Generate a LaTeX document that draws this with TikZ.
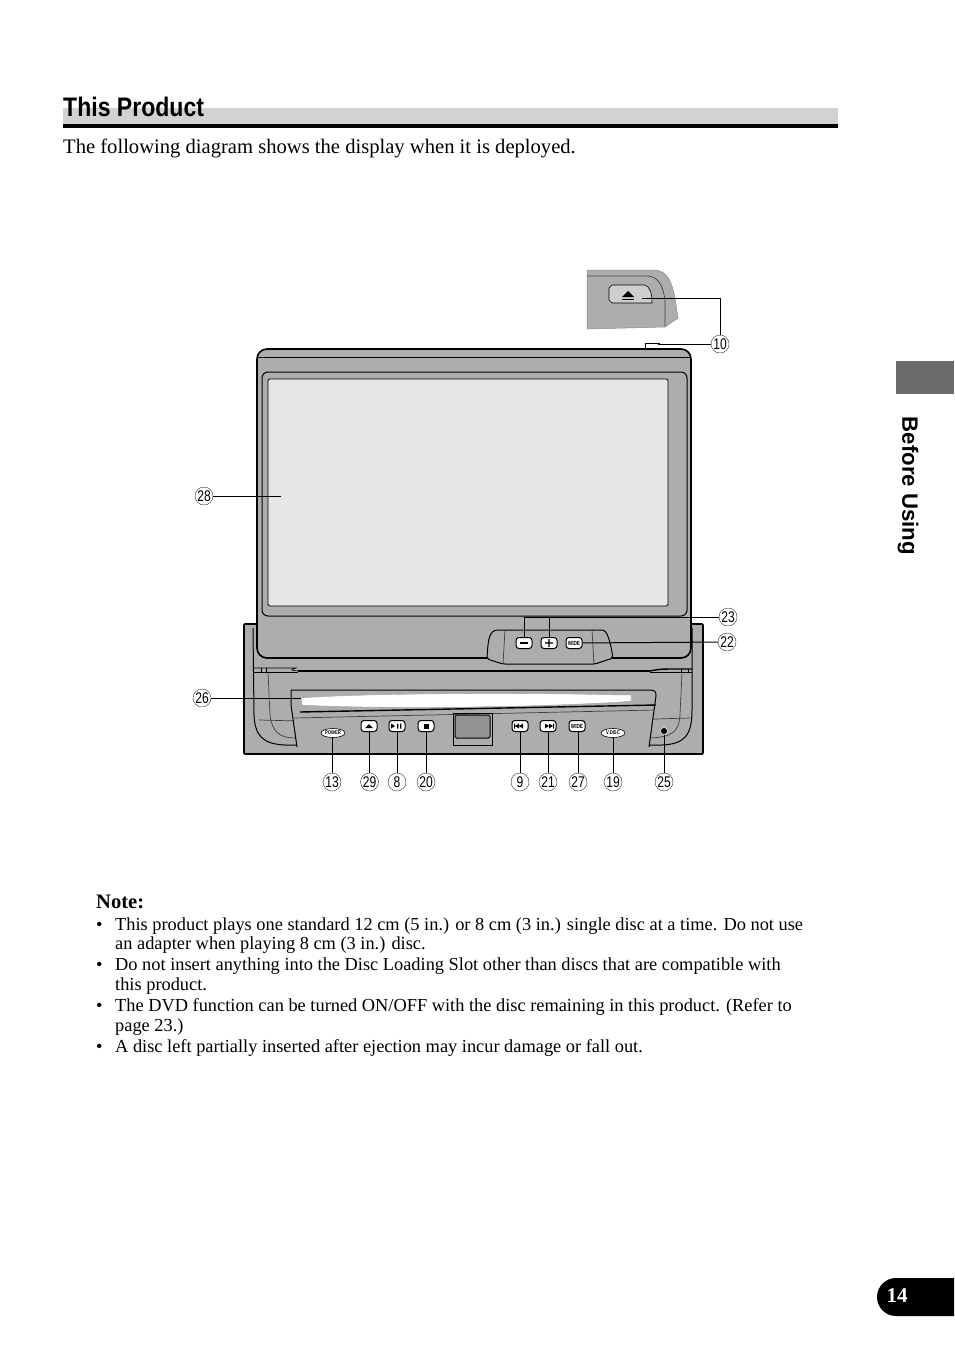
\documentclass[tikz,border=0pt]{standalone}
\usepackage{fontspec}
\setmainfont{Liberation Serif}
\newfontfamily\headf[FakeStretch=0.86]{Liberation Sans}
\newfontfamily\numf[FakeStretch=0.78]{Liberation Sans}
\newfontfamily\sidef{Liberation Sans}
\usetikzlibrary{calc,shapes.geometric}
\definecolor{bodyg}{HTML}{ADADAD}
\definecolor{darkg}{HTML}{6A6A6A}
\definecolor{scr}{HTML}{E6E6E6}
\definecolor{band}{HTML}{D2D2D2}
\tikzset{
  body/.style={font=\fontsize{18.36}{20}\selectfont,anchor=base west,inner sep=0pt},
  num/.style={circle,draw=black,line width=0.3pt,inner sep=0pt,minimum size=18pt,font=\numf\fontsize{15.5}{16}\selectfont},
  leader/.style={draw=black,line width=1pt},
  hw/.style={draw=black,line width=1pt},
  hwthin/.style={draw=black!75,line width=0.7pt},
  btn/.style={draw=black,fill=white,line width=1pt,rounded corners=3pt,minimum width=16pt,minimum height=11pt,inner sep=0pt,font=\numf\bfseries\fontsize{6}{6}\selectfont},
  oval/.style={draw=black,fill=white,line width=0.6pt,ellipse,minimum width=24pt,minimum height=9pt,inner sep=0pt,font=\numf\bfseries\fontsize{5.4}{6}\selectfont},
}
\begin{document}
\begin{tikzpicture}[x=1pt,y=-1pt]
\useasboundingbox (0,0) rectangle (954,1355);
% heading
\fill[band] (63,108) rectangle (838,124);
\fill[black] (63,124) rectangle (838,128);
\node[anchor=base west,inner sep=0pt,font=\headf\bfseries\fontsize{26.8}{28}\selectfont] (title) at (63,116) {This Product};
\node[body,font=\fontsize{20.6}{22}\selectfont] (intro) at (63,153) {The following diagram shows the display when it is deployed.};
% side tab
\fill[darkg] (896,361) rectangle (954,394);
\node[rotate=-90,anchor=center,inner sep=0pt,font=\sidef\bfseries\fontsize{22.2}{24}\selectfont] (side) at (908,486) {Before Using};
% page tab
\fill[black] (954,1278) -- (896,1278) arc[start angle=-90,end angle=-270,radius=19] -- (954,1316) -- cycle;
\node[anchor=center,inner sep=0pt,text=white,font=\bfseries\fontsize{21}{22}\selectfont] (page) at (897,1296) {14};
% inset
\path[fill=bodyg,draw=bodyg!80!black,line width=0.5pt] (587,270) -- (655,270) .. controls (668,271) and (672,283) .. (675,298) -- (678,318) -- (665,327) -- (587,329) -- cycle;
\draw[hwthin] (587,276) -- (648,276) .. controls (660,277) and (663,288) .. (665,300) -- (665,326);
\draw[draw=black,line width=0.6pt,fill=bodyg!60] (612,285) -- (645,285) .. controls (650,287) and (652,293) .. (652,303) -- (612,303) -- (609,300) -- (609,288) -- cycle;
\fill[black] (622,297) -- (628,291) -- (634,297) -- cycle;
\fill[black] (622,298.5) rectangle (634,300);
\coordinate (eject) at (642,298);
% chassis
\path[fill=bodyg,draw=black,line width=1.6pt,rounded corners=1pt] (244,624) rectangle (703,754);
\draw[hw] (253,628) -- (254,715) .. controls (255,735) and (262,744) .. (285,745) -- (662,745) .. controls (685,744) and (692,735) .. (692,710) -- (692,628);
\draw[hwthin] (268,672) -- (270,715) .. controls (272,732) and (280,738) .. (295,738);
\draw[hwthin] (682,672) -- (680,715) .. controls (679,732) and (672,737) .. (650,738);
\draw[hwthin] (259,720) -- (340,722) .. controls (352,723) and (355,731) .. (370,731) -- (455,731);
\draw[hwthin] (490,731) -- (585,731) .. controls (600,730) and (600,720) .. (620,720) -- (690,718);
\draw[hwthin] (297,741) -- (455,741);
\draw[hwthin] (492,741) -- (650,741);
% stripe below the display
\draw[black,line width=0.6pt] (254,668) -- (296,668) .. controls (290,670) .. (298,671);
\draw[black,line width=1.4pt] (298,671) -- (650,671);
\draw[black,line width=1.4pt] (650,671) .. controls (660,669) .. (680,669) -- (692,669);
\draw[black,line width=0.5pt] (254,672) -- (298,672);
\draw[black,line width=0.5pt] (650,672.5) -- (692,672.5);
\draw[black,line width=0.6pt] (261,668) -- (261,672) (266,668) -- (266,672) (681,669) -- (681,673) (688,669) -- (688,673);
% disc panel
\draw[hw,fill=bodyg] (297,747) -- (291,705) -- (291,690) -- (650,690) .. controls (655,690) and (656,692) .. (656,696) -- (649,747);
\draw[black,line width=1.4pt] (300,712) -- (656,705);
\draw[hwthin] (294,718) -- (655,710);
% slot
\path[fill=white,draw=black!40,line width=0.3pt] (301,698) .. controls (350,694) and (500,692) .. (620,695) -- (631,695) -- (631,701) -- (620,702) .. controls (500,709) and (350,708) .. (302,705) -- cycle;
\coordinate (slot) at (301,698);
% centre window
\draw[hw,fill=bodyg!85!black,rounded corners=1.5pt] (455,715) rectangle (490,738);
\draw[black,line width=0.7pt] (453,713) -- (453,745) -- (492,745) -- (492,713) -- cycle;
% display
\path[fill=bodyg,draw=black,line width=1.6pt,rounded corners=10pt] (257,349) rectangle (691,658);
\draw[black,line width=0.8pt] (258,357) -- (690,357);
\path[fill=bodyg,draw=black,line width=1pt,rounded corners=6pt] (262,372) rectangle (687,616);
\path[fill=scr,draw=black,line width=0.8pt,rounded corners=1.5pt] (268,379) rectangle (668,606);
% button panel
\path[fill=bodyg,draw=black,line width=1pt,rounded corners=2pt] (487,659) .. controls (488,640) and (489,630) .. (500,630) -- (600,630) .. controls (607,630) and (610,640) .. (613,658) -- (595,664) -- (503,664) -- cycle;
\draw[hwthin] (503,664) -- (505,630);
\draw[hwthin] (594,664) -- (592,630);
% top button
\draw[black,line width=0.7pt] (645,349) -- (645,343.5) -- (660,343.5);
% buttons
\node[btn] (bminus) at (524,643) {};
\node[btn] (bplus) at (549,643) {};
\node[btn] (bwide) at (574,643) {WIDE};
\node[oval] (bpower) at (333,733) {POWER};
\node[btn] (beject) at (369,726) {};
\node[btn] (bplay) at (397,726) {};
\node[btn] (bstop) at (426,726) {};
\node[btn] (bprev) at (520,726) {};
\node[btn] (bnext) at (548,726) {};
\node[btn] (bwid2) at (577,726) {WIDE};
\node[oval] (bvdisc) at (613,733) {V.DISC};
\node[circle,fill=black,draw=white,line width=0.5pt,minimum size=7pt,inner sep=0pt] (jack) at (664,731) {};
% button glyphs
\fill[black] (520,642.3) rectangle (528,643.7);
\fill[black] (545,642.3) rectangle (553,643.7) (548.3,639) rectangle (549.7,647);
\fill[black] (365,728) -- (369,724) -- (373,728) -- cycle;
\fill[black] (391,723.5) -- (395,726) -- (391,728.5) -- cycle (397,723.5) rectangle (398.3,728.5) (400,723.5) rectangle (401.3,728.5);
\fill[black] (423.5,723.5) rectangle (428.5,728.5);
\fill[black] (514,723.5) rectangle (515,728.5) (515,726) -- (519,723.5) -- (519,728.5) -- cycle (519,726) -- (523,723.5) -- (523,728.5) -- cycle;
\fill[black] (554,723.5) rectangle (553,728.5) (553,726) -- (549,723.5) -- (549,728.5) -- cycle (549,726) -- (545,723.5) -- (545,728.5) -- cycle;
% numbers
\node[num] (n10) at (720,344) {10};
\node[num] (n28) at (204,496) {28};
\node[num] (n23) at (728,617) {23};
\node[num] (n22) at (727,642) {22};
\node[num] (n26) at (202,698) {26};
\node[num] (n13) at (332,782) {13};
\node[num] (n29) at (369.5,782) {29};
\node[num] (n8) at (397,782) {8};
\node[num] (n20) at (426,782) {20};
\node[num] (n9) at (520,782) {9};
\node[num] (n21) at (548,782) {21};
\node[num] (n27) at (578,782) {27};
\node[num] (n19) at (613,782) {19};
\node[num] (n25) at (664,782) {25};
% leaders
\coordinate (scrpt) at (281,496);
\coordinate (topb) at (658,344);
\draw[leader] (n28) -- (scrpt);
\draw[leader] (eject) -- (n10 |- eject) -- (n10);
\draw[leader,line width=0.8pt] (n10) -- (topb);
\draw[leader] (n26) -- (slot);
\draw[leader] (n22) -- (bwide);
\draw[leader] (n23) -- (bminus |- n23) -- (bminus);
\draw[leader] (bplus |- n23) -- (bplus);
\foreach \a/\b in {n13/bpower,n29/beject,n8/bplay,n20/bstop,n9/bprev,n21/bnext,n27/bwid2,n19/bvdisc,n25/jack}{
  \draw[leader] (\a) -- (\a |- \b.south);
}
% note
\node[body,font=\bfseries\fontsize{20.6}{22}\selectfont] (note) at (96,908) {Note:};
\foreach \i/\y/\t in {
 a/930/{This product plays one standard 12 cm (5 in.) or 8 cm (3 in.) single disc at a time. Do not use},
 c/970/{Do not insert anything into the Disc Loading Slot other than discs that are compatible with},
 e/1011/{The DVD function can be turned ON/OFF with the disc remaining in this product. (Refer to},
 g/1052/{A disc left partially inserted after ejection may incur damage or fall out.}}{
  \node[body] (bul\i) at (96,\y) {•};
  \node[body] (txt\i) at (115,\y) {\t};
}
\node[body] (txtb) at (115,949) {an adapter when playing 8 cm (3 in.) disc.};
\node[body] (txtd) at (115,990) {this product.};
\node[body] (txtf) at (115,1031) {page 23.)};
\end{tikzpicture}
\end{document}
